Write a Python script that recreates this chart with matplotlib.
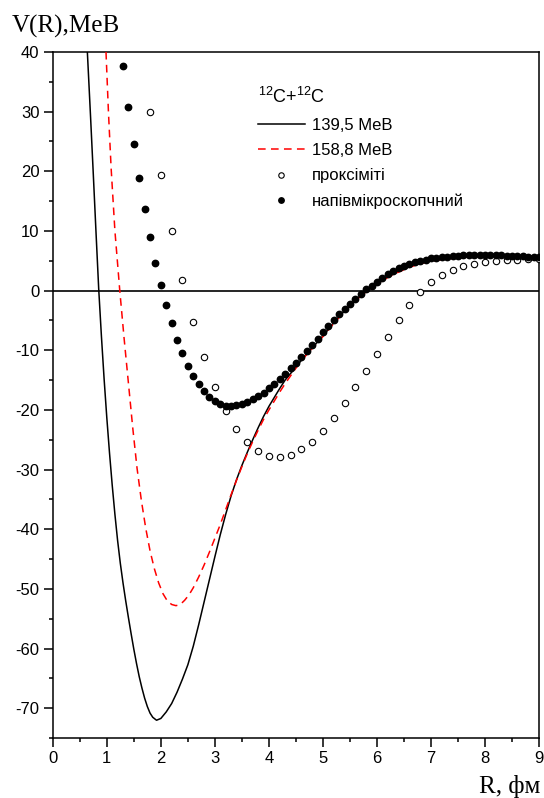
import numpy as np
import matplotlib
matplotlib.use('Agg')
import matplotlib.pyplot as plt

plt.rcParams['font.family'] = ['Liberation Sans', 'DejaVu Sans']
plt.rcParams['mathtext.fontset'] = 'custom'
plt.rcParams['mathtext.rm'] = 'Liberation Sans'
plt.rcParams['axes.unicode_minus'] = False

# 139,5 MeB potential (solid black)
r_139 = [0.64, 0.70, 0.75, 0.80, 0.85, 0.90, 0.95, 1.00, 1.05, 1.10, 1.15, 1.20,
         1.25, 1.30, 1.35, 1.40, 1.45, 1.50, 1.55, 1.60, 1.65, 1.70, 1.75, 1.80,
         1.85, 1.92, 2.00, 2.10, 2.20, 2.30,
         2.40, 2.50, 2.60, 2.70, 2.80, 2.90, 3.00, 3.10, 3.20, 3.30, 3.40, 3.50,
         3.60, 3.70, 3.80, 3.90, 4.00, 4.10, 4.20, 4.30, 4.40, 4.50, 4.60, 4.70,
         4.80, 4.90, 5.00, 5.20, 5.40, 5.60, 5.80, 6.00, 6.20, 6.40, 6.60, 6.80,
         7.00, 7.20, 7.40, 7.60, 7.80, 8.00, 8.50, 9.00]
v_139 = [40.0, 29.0, 19.5, 9.8, 0.3, -7.6, -14.8, -21.3, -27.2, -32.6, -37.5, -41.9,
         -45.7, -49.0, -52.0, -54.8, -57.5, -60.1, -62.5, -64.7, -66.6, -68.3, -69.7, -70.8,
         -71.5, -72.0, -71.7, -70.6, -69.2, -67.3,
         -65.1, -62.7, -59.6, -56.0, -52.2, -48.4, -44.6, -40.9, -37.5, -34.4, -31.7, -29.3,
         -27.1, -25.0, -23.0, -21.1, -19.4, -17.9, -16.4, -15.0, -13.9, -12.8, -11.7, -10.6,
         -9.6, -8.6, -7.6, -5.4, -3.4, -1.6, -0.1, 1.2, 2.3, 3.2, 4.0, 4.6,
         5.0, 5.3, 5.5, 5.7, 5.8, 5.85, 5.85, 5.7]

# 158,8 MeB potential (dashed red)
r_158 = [0.985, 1.03, 1.08, 1.15, 1.24, 1.32, 1.40, 1.48, 1.56, 1.64, 1.72, 1.80,
         1.88, 1.96, 2.04, 2.12, 2.20, 2.28, 2.36, 2.44, 2.52, 2.60, 2.70, 2.80,
         2.90, 3.00, 3.10, 3.20, 3.30, 3.40, 3.50, 3.60, 3.70, 3.80, 3.90, 4.00,
         4.10, 4.20, 4.30, 4.40, 4.50, 4.60, 4.70, 4.80, 4.90, 5.00, 5.20, 5.40,
         5.60, 5.80, 6.00, 6.20, 6.40, 6.60, 6.80, 7.00, 7.20, 7.40, 7.60, 7.80,
         8.00, 8.50, 9.00]
v_158 = [40.0, 30.0, 20.5, 10.0, 0.0, -8.0, -15.5, -23.0, -29.8, -35.2, -39.8, -43.6,
         -46.6, -49.0, -50.8, -52.0, -52.6, -52.8, -52.6, -51.9, -51.0, -49.8, -48.0, -46.0,
         -43.8, -41.5, -39.2, -36.7, -34.2, -31.8, -29.5, -27.3, -25.3, -23.4, -21.6, -20.0,
         -18.5, -17.0, -15.6, -14.3, -13.0, -11.8, -10.7, -9.7, -8.7, -7.7, -5.5, -3.5,
         -1.7, -0.2, 1.1, 2.2, 3.1, 3.9, 4.5, 4.9, 5.2, 5.4, 5.6, 5.7,
         5.8, 5.8, 5.7]

# proximity (open circles)
r_prox = [1.8, 2.0, 2.2, 2.4, 2.6, 2.8, 3.0, 3.2, 3.4, 3.6, 3.8, 4.0, 4.2, 4.4,
          4.6, 4.8, 5.0, 5.2, 5.4, 5.6, 5.8, 6.0, 6.2, 6.4, 6.6, 6.8, 7.0, 7.2,
          7.4, 7.6, 7.8, 8.0, 8.2, 8.4, 8.6, 8.8, 9.0]
v_prox = [30.0, 19.3, 9.9, 1.7, -5.2, -11.2, -16.1, -20.2, -23.2, -25.4, -26.9, -27.7,
          -27.9, -27.6, -26.6, -25.3, -23.5, -21.3, -18.9, -16.2, -13.4, -10.6, -7.7,
          -5.0, -2.4, -0.2, 1.4, 2.6, 3.5, 4.1, 4.5, 4.8, 5.0, 5.2, 5.2, 5.3, 5.3]

# semimicroscopic (filled circles)
r_semi = [1.3, 1.4, 1.5, 1.6, 1.7, 1.8, 1.9, 2.0, 2.1, 2.2, 2.3, 2.4, 2.5, 2.6,
          2.7, 2.8, 2.9, 3.0, 3.1, 3.2, 3.3, 3.4, 3.5, 3.6, 3.7, 3.8, 3.9, 4.0,
          4.1, 4.2, 4.3, 4.4, 4.5, 4.6, 4.7, 4.8, 4.9, 5.0, 5.1, 5.2, 5.3, 5.4,
          5.5, 5.6, 5.7, 5.8, 5.9, 6.0, 6.1, 6.2, 6.3, 6.4, 6.5, 6.6, 6.7, 6.8,
          6.9, 7.0, 7.1, 7.2, 7.3, 7.4, 7.5, 7.6, 7.7, 7.8, 7.9, 8.0, 8.1, 8.2,
          8.3, 8.4, 8.5, 8.6, 8.7, 8.8, 8.9, 9.0]
v_semi = [37.6, 30.8, 24.5, 18.9, 13.6, 8.9, 4.6, 0.9, -2.4, -5.5, -8.2, -10.5, -12.6, -14.3,
          -15.7, -16.8, -17.8, -18.5, -19.0, -19.3, -19.4, -19.2, -19.0, -18.6, -18.1, -17.6,
          -17.1, -16.4, -15.7, -14.8, -13.9, -13.0, -12.2, -11.2, -10.1, -9.1, -8.1, -7.0,
          -6.0, -5.0, -4.0, -3.1, -2.2, -1.4, -0.6, 0.2, 0.8, 1.5, 2.1, 2.7, 3.2, 3.7,
          4.1, 4.5, 4.8, 5.0, 5.2, 5.4, 5.5, 5.6, 5.7, 5.8, 5.8, 5.9, 5.9, 5.9, 5.9, 5.9,
          5.9, 5.9, 5.9, 5.8, 5.8, 5.8, 5.8, 5.7, 5.7, 5.6]

fig = plt.figure(figsize=(5.44, 7.98), dpi=100)
ax = fig.add_axes([0.097, 0.075, 0.894, 0.86])

ax.axhline(0, color='black', lw=1.2, zorder=1)
ax.plot(r_139, v_139, color='black', lw=1.1, label='139,5 MeB', zorder=2)
ax.plot(r_158, v_158, color='#ff0000', lw=1.1, dashes=(5, 3.5), label='158,8 MeB', zorder=3)
ax.plot(r_prox, v_prox, 'o', ms=4.6, mfc='white', mec='black', mew=0.8,
        label='проксіміті', zorder=4)
ax.plot(r_semi, v_semi, 'o', ms=4.6, color='black', label='напівмікроскопчний', zorder=5)

ax.set_xlim(0, 9)
ax.set_ylim(-75, 40)
ax.set_xticks(np.arange(0, 10, 1))
ax.set_xticks(np.arange(0, 9.01, 0.5), minor=True)
ax.set_yticks(np.arange(-70, 41, 10))
ax.set_yticks(np.arange(-75, 41, 5), minor=True)
ax.tick_params(which='major', direction='out', length=6.5, width=1.1, labelsize=12, pad=3)
ax.tick_params(which='minor', direction='out', length=3.2, width=1.1)
for s in ax.spines.values():
    s.set_linewidth(1.1)

leg = ax.legend(loc='upper left', bbox_to_anchor=(0.408, 0.958), frameon=False,
                fontsize=12, title='$^{12}$C+$^{12}$C', title_fontsize=13,
                handlelength=2.8, handletextpad=0.42, labelspacing=0.62,
                borderaxespad=0, markerscale=0.85)
leg._legend_box.align = 'left'

fig.text(0.022, 1 - 33 / 798, 'V(R),MeB', family='Liberation Serif', fontsize=18,
         va='baseline', ha='left')
fig.text(0.993, 1 - 793 / 798, 'R, фм', family='Liberation Serif', fontsize=18,
         va='baseline', ha='right')

fig.savefig('out.png', dpi=100)
